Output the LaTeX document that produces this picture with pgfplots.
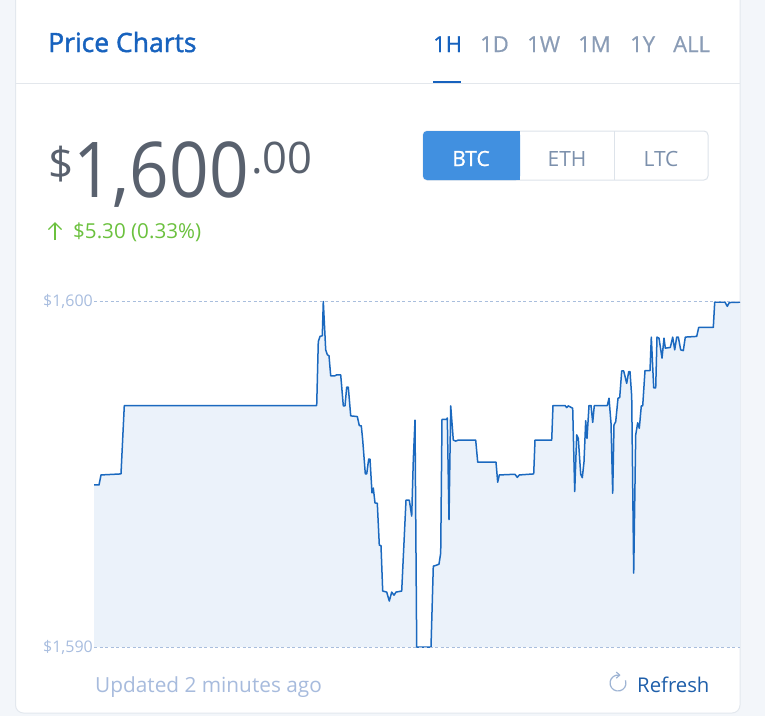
\documentclass[border=0pt]{standalone}
\usepackage{pgfplots}
\pgfplotsset{compat=1.18}
\usepackage{pgfplotstable}
\usepackage{fontspec}
\setmainfont{Open Sans}
\definecolor{bgc}{HTML}{F3F6FA}
\definecolor{cardborder}{HTML}{E3E8EE}
\definecolor{sepc}{HTML}{E3E7EC}
\definecolor{titleblue}{HTML}{1762BE}
\definecolor{tabgray}{HTML}{8A9CB6}
\definecolor{pricec}{HTML}{59616E}
\definecolor{btcblue}{HTML}{4190E0}
\definecolor{btnborder}{HTML}{DDE3EA}
\definecolor{btntext}{HTML}{7C90AC}
\definecolor{greenc}{HTML}{6BC13E}
\definecolor{gridc}{HTML}{A9BEDD}
\definecolor{labc}{HTML}{A8BDDF}
\definecolor{fillc}{HTML}{EBF2FA}
\definecolor{linec}{HTML}{1B69BF}
\definecolor{footc}{HTML}{A7BBDD}
\definecolor{refc}{HTML}{1F5FAA}
\definecolor{iconc}{HTML}{9DB3D3}

\pgfplotstableread{
t v
0 1594.69
5 1594.69
7 1594.98
27 1595.01
30.3 1596.99
222.7 1596.99
224.3 1598.84
226 1598.99
228.3 1599.01
229.3 1600.00
231.7 1598.60
233.3 1598.46
235 1598.43
236.7 1597.85
241 1597.85
242.7 1597.88
246.7 1597.88
249.3 1596.98
251 1596.98
252.7 1597.52
254.3 1597.52
256.7 1596.69
263.3 1596.67
265.3 1596.41
267.3 1596.40
268.7 1595.99
271.3 1595.01
272.7 1595.01
274.7 1595.44
276 1595.44
278 1594.46
279.3 1594.60
281 1594.17
283.3 1594.16
285.3 1592.95
287 1592.93
288.7 1591.62
292.7 1591.59
295.3 1591.33
297.7 1591.59
300 1591.50
302 1591.59
307.7 1591.62
312 1594.25
315.3 1594.25
317.7 1593.79
319.3 1595.41
321 1596.57
322.7 1590.00
337 1590.00
339.3 1592.34
342.7 1592.37
345 1592.40
346.7 1592.72
348 1596.59
352.7 1596.59
353.3 1596.63
355 1593.69
356.7 1596.98
359.3 1595.99
361.7 1595.96
364.3 1595.99
381.7 1595.99
383.7 1595.35
402 1595.35
403.7 1594.77
405.3 1594.98
421 1595.00
423.3 1594.91
425.3 1594.98
439.7 1595.01
441 1595.99
457.7 1595.99
459 1596.99
471 1596.99
472.7 1596.93
474.3 1596.98
478.7 1596.91
480.7 1594.50
482.7 1596.14
484.3 1596.04
486.7 1595.00
488.3 1594.90
490 1595.36
491.7 1596.55
493 1596.04
495 1596.99
497 1596.99
498.7 1596.50
500.3 1596.99
513.3 1596.99
515 1597.20
517 1596.48
518.7 1594.45
520 1596.43
521.7 1596.52
524 1597.20
525.7 1597.22
527.7 1597.99
529.7 1597.99
532.7 1597.63
534.7 1597.97
536 1597.97
537.7 1597.25
539.7 1592.14
541.7 1596.14
543.7 1596.49
545.3 1596.33
547.3 1596.98
548.7 1596.98
551 1598.00
556 1598.00
557.3 1598.97
559.7 1597.50
561.7 1597.50
563 1598.97
565 1598.94
568 1598.36
570 1598.94
571.3 1598.65
576.3 1598.67
578.7 1598.97
580.7 1598.60
582.7 1598.97
584.3 1598.97
586.7 1598.60
589.3 1598.58
591.3 1598.97
602.7 1598.99
604.7 1599.25
619.3 1599.25
620.7 1599.98
631 1599.98
633.3 1599.86
635.3 1599.97
646 1599.98
}\pricedata

\begin{document}
\begin{tikzpicture}
\begin{scope}[x=1pt,y=-1pt]
\path[use as bounding box] (0,0) rectangle (765,716);
\fill[bgc] (0,0) rectangle (765,716);
\begin{scope}
\clip (0,0) rectangle (765,716);
\draw[cardborder, fill=white, line width=1pt, rounded corners=8pt] (15.5,-12) rectangle (740,713);
\end{scope}
\draw[sepc, line width=1pt] (16,83) -- (739.5,83);
\draw[titleblue, line width=2pt] (433,82) -- (461,82);
\node[anchor=base west, inner sep=0pt, text=titleblue, font=\fontsize{26.5}{30}\selectfont\addfontfeature{FakeBold=1.6}] at (48,52) {Price Charts};
\begin{scope}[every node/.style={anchor=base west, inner sep=0pt, text=tabgray, font=\fontsize{22}{26}\selectfont\addfontfeature{FakeBold=0.5}}]
\node[text=titleblue] at (433,52) {1H};
\node at (480,52) {1D};
\node at (527,52) {1W};
\node at (578,52) {1M};
\node at (630,52) {1Y};
\node at (673,52) {ALL};
\end{scope}
\node[anchor=base west, inner sep=0pt, text=pricec, font=\fontsize{44}{50}\selectfont] at (48,179) {\$};
\node[anchor=base west, inner sep=0pt, text=pricec, xscale=0.9, font=\fontsize{77}{82}\selectfont] at (73,197) {1,600};
\node[anchor=base west, inner sep=0pt, text=pricec, font=\fontsize{43.5}{48}\selectfont] at (251,173) {.00};
\draw[btnborder, fill=white, line width=1pt, rounded corners=4pt] (423,131) rectangle (708,180);
\fill[btcblue, rounded corners=4pt] (423,131) rectangle (520,180);
\fill[btcblue] (480,131) rectangle (520,180);
\draw[btnborder, line width=1pt] (614,131) -- (614,180);
\node[anchor=base, inner sep=0pt, text=white, font=\fontsize{21}{24}\selectfont\addfontfeature{FakeBold=1}] at (471,166) {BTC};
\node[anchor=base, inner sep=0pt, text=btntext, font=\fontsize{21}{24}\selectfont] at (567,166) {ETH};
\node[anchor=base, inner sep=0pt, text=btntext, font=\fontsize{21}{24}\selectfont] at (661,166) {LTC};
\draw[greenc, line width=1.3pt] (55,240) -- (55,223);
\draw[greenc, line width=1.3pt, line join=miter] (48.5,229.5) -- (55,223) -- (61.5,229.5);
\node[anchor=base west, inner sep=0pt, text=greenc, font=\fontsize{20.6}{24}\selectfont] at (73,238) {\$5.30 (0.33\%)};
\node[anchor=base west, inner sep=0pt, text=footc, font=\fontsize{20.8}{24}\selectfont] at (95,692) {Updated 2 minutes ago};
\draw[iconc, line width=1.2pt] (618,683) ++(-80:8) arc[start angle=-80, end angle=-380, radius=8];
\draw[iconc, line width=1.2pt, line join=miter] (616.3,672) -- (619.6,675.1) -- (616.3,678.2);
\node[anchor=base west, inner sep=0pt, text=refc, font=\fontsize{20.3}{24}\selectfont] at (637,692) {Refresh};
\end{scope}
\begin{axis}[at={(94pt,-647pt)}, anchor=south west,
  width=646pt, height=345.5pt, scale only axis,
  xmin=0, xmax=646, ymin=1590, ymax=1600, clip=false,
  axis line style={draw=none}, xtick=\empty,
  ytick={1590,1600}, yticklabels={{\$1,590},{\$1,600}},
  major tick length=0pt,
  ymajorgrids, grid style={gridc, dash pattern=on 3pt off 2.5pt, line width=0.8pt},
  yticklabel style={text=labc, font=\fontsize{16}{18}\selectfont, inner sep=1pt},
  axis on top]
\addplot[fill=fillc, draw=none] table[x=t,y=v]{\pricedata} -- (axis cs:646,1590) -- (axis cs:0,1590) -- cycle;
\addplot[linec, line width=1.5pt, line join=round] table[x=t,y=v]{\pricedata};
\end{axis}
\end{tikzpicture}
\end{document}
